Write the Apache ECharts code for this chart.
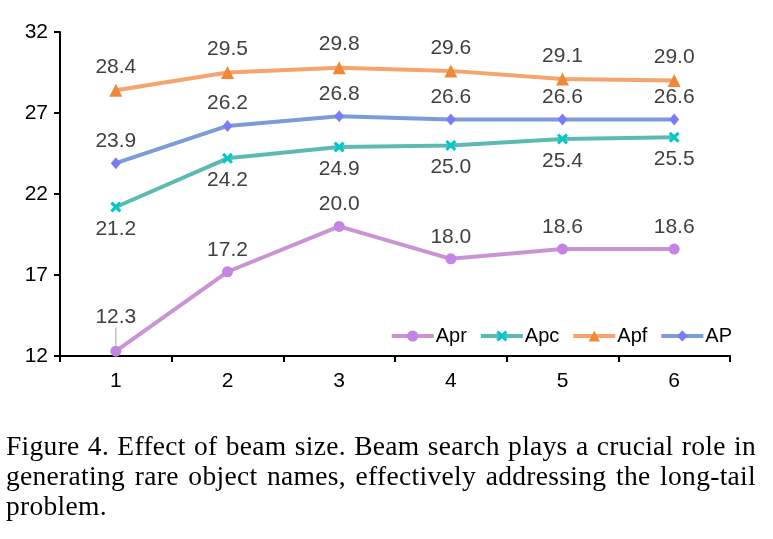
<!DOCTYPE html>
<html>
<head>
<meta charset="utf-8">
<script src="https://cdn.jsdelivr.net/npm/echarts@6/dist/echarts.min.js"></script>
<style>
  html, body { margin: 0; padding: 0; background: #fff; }
  #wrap { position: relative; width: 773px; height: 539px; overflow: hidden; }
  #chart { position: absolute; left: 0; top: 0; width: 773px; height: 539px; }
  #caption { position: absolute; left: 6px; top: 431px; width: 750px;
    font-family: "Liberation Serif", "Times New Roman", serif; font-size: 27.5px; line-height: 30px; color: #000; letter-spacing: 0.3px; }
  #caption .j { text-align: justify; text-align-last: justify; white-space: nowrap; }
  #caption .l { text-align: left; }
</style>
</head>
<body>
<div id="wrap">
  <div id="chart"></div>
  <div id="caption">
    <div class="j">Figure 4. Effect of beam size. Beam search plays a crucial role in</div>
    <div class="j">generating rare object names, effectively addressing the long-tail</div>
    <div class="l">problem.</div>
  </div>
</div>
<script>
var categories = ['1', '2', '3', '4', '5', '6'];
var seriesNames = ['Apr', 'Apc', 'Apf', 'AP'];
var apr = [12.3, 17.2, 20.0, 18.0, 18.6, 18.6];
var apc = [21.2, 24.2, 24.9, 25.0, 25.4, 25.5];
var apf = [28.4, 29.5, 29.8, 29.6, 29.1, 29.0];
var ap  = [23.9, 26.2, 26.8, 26.6, 26.6, 26.6];
var yTicks = [12, 17, 22, 27, 32];

var xPath = 'path://M2,0 L5,3 L8,0 L10,2 L7,5 L10,8 L8,10 L5,7 L2,10 L0,8 L3,5 L0,2 Z';
var FONT = 'Liberation Sans, Arial, sans-serif';

function fmt(p) { return Number(p.value).toFixed(1); }
var labelBase = { show: true, fontSize: 21, color: '#404040', fontFamily: FONT, formatter: fmt, distance: 6 };

// Apr: first point's label is lifted with a leader line
var aprData = apr.map(function (v, i) {
  return i === 0
    ? { value: v, labelLine: { show: true, lineStyle: { color: '#a0a0a0', width: 1 } } }
    : { value: v, labelLine: { show: false } };
});

var chart = echarts.init(document.getElementById('chart'), null, { renderer: 'canvas' });
chart.setOption({
  animation: false,
  backgroundColor: '#fff',
  grid: { left: 60, right: 43, top: 32, bottom: 183, containLabel: false },
  legend: {
    data: seriesNames,
    right: 36, top: 321,
    itemWidth: 42, itemHeight: 14, itemGap: 12,
    lineStyle: { width: 4 },
    textStyle: { fontSize: 20, color: '#000', fontFamily: FONT, padding: [0, 0, 0, -3] }
  },
  xAxis: {
    type: 'category', data: categories, boundaryGap: true,
    axisLine: { show: true, lineStyle: { color: '#000', width: 2 } },
    axisTick: { show: true, alignWithLabel: false, length: 6, lineStyle: { color: '#000', width: 2 } },
    axisLabel: { fontSize: 21, color: '#000', margin: 15, fontFamily: FONT },
    splitLine: { show: false }
  },
  yAxis: {
    type: 'value', min: yTicks[0], max: yTicks[yTicks.length - 1], interval: 5,
    axisLine: { show: true, lineStyle: { color: '#000', width: 2 } },
    axisTick: { show: true, length: 6, lineStyle: { color: '#000', width: 2 } },
    axisLabel: { fontSize: 21, color: '#000', margin: 12, fontFamily: FONT },
    splitLine: { show: false }
  },
  series: [
    {
      name: 'Apr', type: 'line', data: aprData,
      symbol: 'circle', symbolSize: 11,
      itemStyle: { color: '#C384E6' },
      lineStyle: { color: '#C993D6', width: 4 },
      label: Object.assign({}, labelBase, { position: 'top' }),
      labelLine: { show: false },
      labelLayout: function (p) { return p.dataIndex === 0 ? { dy: -12 } : {}; },
      z: 2
    },
    {
      name: 'Apc', type: 'line', data: apc,
      symbol: xPath, symbolSize: 11,
      itemStyle: { color: '#00C8C8' },
      lineStyle: { color: '#5CBAB3', width: 4 },
      label: Object.assign({}, labelBase, { position: 'bottom' }),
      z: 3
    },
    {
      name: 'Apf', type: 'line', data: apf,
      symbol: 'triangle', symbolSize: 13,
      itemStyle: { color: '#F0883A' },
      lineStyle: { color: '#F4A46C', width: 4 },
      label: Object.assign({}, labelBase, { position: 'top' }),
      z: 4
    },
    {
      name: 'AP', type: 'line', data: ap,
      symbol: 'diamond', symbolSize: [10, 12],
      itemStyle: { color: '#7B7BF7' },
      lineStyle: { color: '#7B9BD9', width: 4 },
      label: Object.assign({}, labelBase, { position: 'top' }),
      z: 5
    }
  ]
});
</script>
</body>
</html>
